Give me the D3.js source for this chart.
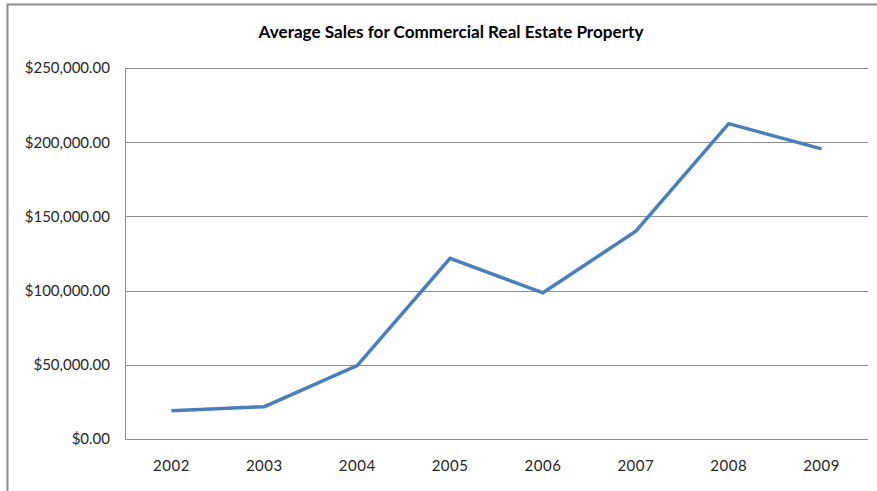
<!DOCTYPE html>
<html>
<head>
<meta charset="utf-8">
<script src="https://cdn.jsdelivr.net/npm/d3@7"></script>
<style>
  html, body { margin: 0; padding: 0; background: #fff; }
  svg { display: block; }
  text { font-family: Lato, "Open Sans", "Liberation Sans", sans-serif; fill: #262626; }
</style>
</head>
<body>
<svg id="chart" width="877" height="491"></svg>
<script>
// Average sale price per year
const years = ["2002", "2003", "2004", "2005", "2006", "2007", "2008", "2009"];
const avgSales = [19000, 21800, 49500, 121700, 98500, 140000, 212500, 195500];
const yTicks = [0, 50000, 100000, 150000, 200000, 250000];
const chartTitle = "Average Sales for Commercial Real Estate Property";

const width = 877, height = 491;
const margin = { top: 68, right: 9, bottom: 52, left: 125 };
const innerW = width - margin.left - margin.right;
const innerH = height - margin.top - margin.bottom;

const svg = d3.select("#chart");

// outer chart frame (top and left edges visible)
svg.append("path")
  .attr("d", `M7.5,${height} V4.5 H${width}`)
  .attr("fill", "none")
  .attr("stroke", "#8c8c8c")
  .attr("stroke-width", 2);

const title = svg.append("text")
  .attr("x", 451)
  .attr("y", 38)
  .attr("text-anchor", "middle")
  .style("font-weight", "bold")
  .style("font-size", "15px")
  .style("fill", "#000")
  .text(chartTitle);
// fit the title to its span
const tw = title.node().getComputedTextLength();
title.style("font-size", (15 * 385 / tw).toFixed(2) + "px");

const g = svg.append("g").attr("transform", `translate(${margin.left},${margin.top})`);

const x = d3.scaleBand().domain(years).range([0, innerW]);
const y = d3.scaleLinear().domain([0, 250000]).range([innerH, 0]);

const money = d => "$" + d3.format(",.2f")(d);

// horizontal gridlines
g.append("g")
  .selectAll("line")
  .data(yTicks)
  .join("line")
  .attr("x1", 0)
  .attr("x2", innerW)
  .attr("y1", d => Math.round(y(d)) + 0.5)
  .attr("y2", d => Math.round(y(d)) + 0.5)
  .attr("stroke", "#8e8e8e")
  .attr("stroke-width", 1);

// y axis
const yAxis = g.append("g")
  .call(d3.axisLeft(y).tickValues(yTicks).tickFormat(money).tickSize(0).tickPadding(15));
yAxis.select(".domain")
  .attr("stroke", "#8e8e8e")
  .attr("d", `M0.5,${innerH}V0`);
yAxis.selectAll("text")
  .style("font-size", "15px")
  .attr("font-family", null)
  .style("fill", "#262626");

// x axis
const xAxis = g.append("g")
  .attr("transform", `translate(0,${innerH})`)
  .call(d3.axisBottom(x).tickSize(0).tickPadding(21));
xAxis.select(".domain").remove();
xAxis.selectAll("text")
  .style("font-size", "15px")
  .style("letter-spacing", "0.5px")
  .attr("font-family", null)
  .style("fill", "#262626");

// sales line
const line = d3.line()
  .x((d, i) => x(years[i]) + x.bandwidth() / 2)
  .y(d => y(d));

g.append("path")
  .datum(avgSales)
  .attr("d", line)
  .attr("fill", "none")
  .attr("stroke", "#4a7ebb")
  .attr("stroke-width", 3.5)
  .attr("stroke-linejoin", "miter");
</script>
</body>
</html>
